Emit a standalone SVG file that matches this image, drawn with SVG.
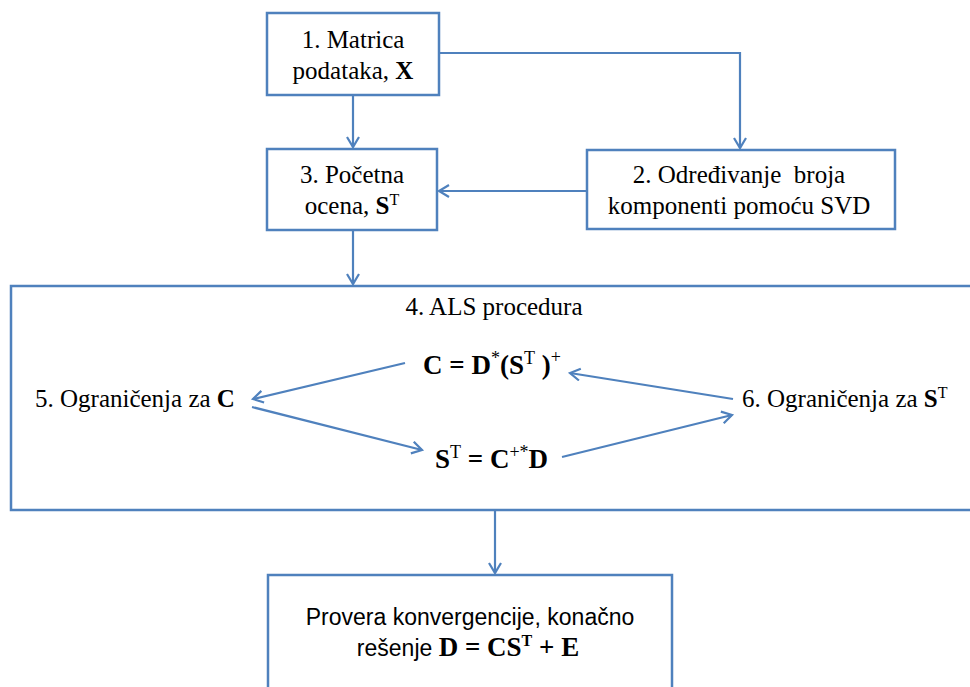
<svg xmlns="http://www.w3.org/2000/svg" width="970" height="687" viewBox="0 0 970 687">
<defs>
<style>
.box{fill:#fff;stroke:#4F81BD;stroke-width:2.5}
.con{fill:none;stroke:#4F81BD;stroke-width:2.2}
.t{font-family:"Liberation Serif","Times New Roman",serif;font-size:25px;fill:#000}
.eq{font-family:"Liberation Serif","Times New Roman",serif;font-size:27px;fill:#000;font-weight:bold}
.b{font-weight:bold}
.s{font-family:"Liberation Sans",Arial,sans-serif;font-size:23px;fill:#000}
.sup{font-size:16px}
.sup2{font-size:18px}
</style>
<marker id="ah" markerUnits="userSpaceOnUse" markerWidth="16" markerHeight="16" refX="11" refY="7" orient="auto">
<path d="M1,1 L11,7 L1,13" fill="none" stroke="#4F81BD" stroke-width="2.2"/>
</marker>
</defs>
<rect width="970" height="687" fill="#fff"/>

<g id="node1">
<rect class="box" x="267" y="13" width="172" height="82"/>
<text class="t" x="353" y="48" text-anchor="middle">1. Matrica</text>
<text class="t" x="353" y="79" text-anchor="middle">podataka, <tspan class="b">X</tspan></text>
</g>

<g id="node3">
<rect class="box" x="267" y="149" width="170" height="81"/>
<text class="t" x="352" y="183" text-anchor="middle">3. Početna</text>
<text class="t" x="352" y="214" text-anchor="middle">ocena, <tspan class="b">S</tspan><tspan class="sup" dy="-9">T</tspan></text>
</g>

<g id="node2">
<rect class="box" x="587" y="150" width="308" height="79"/>
<text class="t" x="739" y="183" text-anchor="middle" xml:space="preserve">2. Određivanje  broja</text>
<text class="t" x="739" y="214" text-anchor="middle">komponenti pomoću SVD</text>
</g>

<g id="node4">
<rect class="box" x="11" y="286" width="965" height="224"/>
<text class="t" x="494" y="315" text-anchor="middle">4. ALS procedura</text>
</g>

<g id="eq1">
<text class="eq" x="423" y="374">C = D<tspan class="sup2" dy="-10" font-weight="normal">*</tspan><tspan dy="10">(S</tspan><tspan class="sup2" dy="-10" font-weight="normal">T</tspan><tspan dy="10"> )</tspan><tspan class="sup2" dy="-11" font-weight="normal">+</tspan></text>
</g>

<g id="node5">
<text class="t" x="35" y="407">5. Ograničenja za <tspan class="b">C</tspan></text>
</g>

<g id="node6">
<text class="t" x="742" y="407">6. Ograničenja za <tspan class="b">S</tspan><tspan class="sup" dy="-9">T</tspan></text>
</g>

<g id="eq2">
<text class="eq" x="435" y="468">S<tspan class="sup2" dy="-10" font-weight="normal">T</tspan><tspan dy="10"> = C</tspan><tspan class="sup2" dy="-10" font-weight="normal">+*</tspan><tspan dy="10">D</tspan></text>
</g>

<g id="node7">
<rect class="box" x="268" y="575" width="404" height="130"/>
<text class="s" x="470" y="625" text-anchor="middle">Provera konvergencije, konačno</text>
<text class="s" x="468" y="656" text-anchor="middle">rešenje <tspan class="eq" font-size="25px">D = CS</tspan><tspan class="eq sup" dy="-10">T</tspan><tspan class="eq" font-size="25px" dy="10"> + E</tspan></text>
</g>

<g id="connectors">
<line class="con" x1="353" y1="95" x2="353" y2="147" marker-end="url(#ah)"/>
<polyline class="con" points="439,53 740,53 740,148" marker-end="url(#ah)"/>
<line class="con" x1="587" y1="191" x2="439" y2="191" marker-end="url(#ah)"/>
<line class="con" x1="353" y1="230" x2="353" y2="284" marker-end="url(#ah)"/>
<line class="con" x1="405" y1="363" x2="253" y2="399" marker-end="url(#ah)"/>
<line class="con" x1="252" y1="407" x2="422" y2="450" marker-end="url(#ah)"/>
<line class="con" x1="733" y1="399" x2="570" y2="373" marker-end="url(#ah)"/>
<line class="con" x1="562" y1="457" x2="732" y2="415" marker-end="url(#ah)"/>
<line class="con" x1="495" y1="510" x2="495" y2="573" marker-end="url(#ah)"/>
</g>
</svg>
